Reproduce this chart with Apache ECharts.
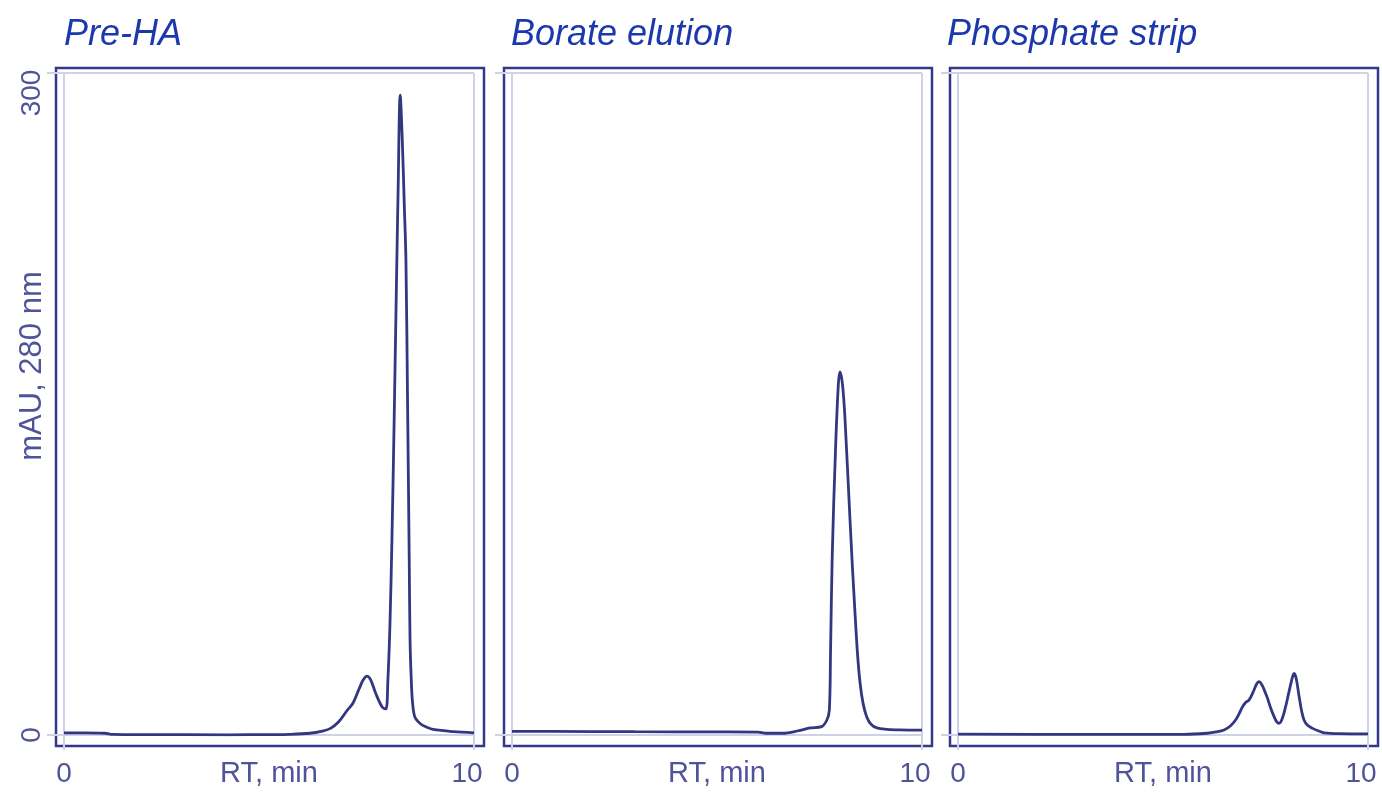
<!DOCTYPE html>
<html>
<head>
<meta charset="utf-8">
<script src="https://cdn.jsdelivr.net/npm/echarts@6/dist/echarts.min.js"></script>
<style>
html, body { margin: 0; background: #fff; }
#chart { width: 1382px; height: 793px; }
</style>
</head>
<body>
<div id="chart"></div>
<script>
let panelTitles = ['Pre-HA', 'Borate elution', 'Phosphate strip'];
let xName = 'RT, min';
let yName = 'mAU, 280 nm';
let xTicks = [0, 10];
let yTicks = [0, 300];

// RT (min) and absorbance (mAU)
let preHaTime = [0, 0.5, 1.0, 1.2, 2, 4, 5, 5.5, 6.0, 6.3, 6.5, 6.7, 6.9, 7.05, 7.2, 7.3, 7.39, 7.48, 7.6, 7.76, 7.85, 7.9, 7.95, 8.0, 8.05, 8.1, 8.15, 8.2, 8.25, 8.3, 8.34, 8.38, 8.42, 8.44, 8.47, 8.5, 8.56, 8.7, 8.85, 9.0, 9.5, 10];
let preHaMau = [1.0, 1.0, 0.8, 0.3, 0.2, 0.1, 0.2, 0.3, 0.8, 1.8, 3, 6, 11, 14.5, 21, 25, 26.7, 25, 19, 12.7, 11.8, 25, 50, 90, 140, 195, 248, 290, 270, 240, 215, 150, 80, 43, 25, 15, 8, 5, 3.5, 2.5, 1.5, 1.0];

let borateTime = [0, 1, 3, 5, 6, 6.2, 6.6, 7.0, 7.27, 7.55, 7.68, 7.74, 7.77, 7.81, 7.89, 7.96, 8.0, 8.06, 8.12, 8.24, 8.37, 8.49, 8.65, 8.9, 9.46, 10];
let borateMau = [1.6, 1.6, 1.5, 1.4, 1.3, 0.8, 0.8, 2.0, 3.2, 3.8, 6.8, 11.3, 38.5, 80.8, 129, 159, 164.6, 159, 144, 99, 54, 23.5, 8.3, 3.2, 2.3, 2.2];

let phosphateTime = [0, 3, 5.5, 6.08, 6.3, 6.49, 6.65, 6.77, 6.86, 6.94, 7.02, 7.1, 7.2, 7.28, 7.34, 7.42, 7.5, 7.55, 7.63, 7.71, 7.78, 7.83, 7.9, 7.99, 8.06, 8.12, 8.17, 8.2, 8.25, 8.32, 8.38, 8.44, 8.52, 8.65, 8.8, 8.93, 9.3, 10];
let phosphateMau = [0.4, 0.3, 0.3, 0.8, 1.4, 2.3, 4.2, 6.8, 9.8, 12.8, 14.8, 15.9, 19.5, 23, 24.2, 22.5, 19, 16.6, 12, 8.3, 5.8, 5.3, 7, 12.8, 18.5, 23.4, 27, 27.9, 25.5, 17.4, 11, 6.8, 4.5, 3, 1.8, 1.0, 0.6, 0.5];

let traces = [
    [preHaTime, preHaMau],
    [borateTime, borateMau],
    [phosphateTime, phosphateMau]
];

let frameColor = '#34378a';
let traceColor = '#33377f';
let faintColor = '#cfd1e8';
let labelColor = '#4f5399';
let titleColor = '#1c38ad';
let font = 'Liberation Sans';

let plotLeft = [64, 512, 958];
let plotWidth = 410;
let plotTop = 73;
let plotHeight = 662;

let grids = [];
let xAxes = [];
let yAxes = [];
let seriesList = [];
let titles = [];

// outer frames (border only)
for (let i = 0; i < 3; i++) {
    grids.push({
        left: plotLeft[i] - 8, top: plotTop - 5, width: plotWidth + 18, height: plotHeight + 16,
        show: true, borderColor: frameColor, borderWidth: 2.5, backgroundColor: 'transparent',
        outerBoundsMode: 'none'
    });
    xAxes.push({ gridIndex: i, type: 'value', show: false, min: 0, max: 1 });
    yAxes.push({ gridIndex: i, type: 'value', show: false, min: 0, max: 1 });
}

// data plots
for (let i = 0; i < 3; i++) {
    let g = i + 3;
    grids.push({ left: plotLeft[i], top: plotTop, width: plotWidth, height: plotHeight, outerBoundsMode: 'none' });

    xAxes.push({
        gridIndex: g, type: 'value',
        min: xTicks[0], max: xTicks[1], interval: xTicks[1] - xTicks[0],
        axisLine: { show: false },
        axisTick: { show: true, length: 15, lineStyle: { color: faintColor, width: 2 } },
        splitLine: { show: true, lineStyle: { color: faintColor, width: 2 } },
        axisLabel: {
            margin: 25, fontFamily: font, fontSize: 28, color: labelColor,
            formatter: v => v === xTicks[1] ? '{end|' + v + '}' : '{n|' + v + '}',
            rich: {
                n: { fontFamily: font, fontSize: 28, color: labelColor },
                end: { fontFamily: font, fontSize: 28, color: labelColor, padding: [0, 14, 0, 0] }
            }
        },
        name: xName, nameLocation: 'middle', nameGap: 24, nameMoveOverlap: false,
        nameTextStyle: { fontFamily: font, fontSize: 29, color: labelColor }
    });

    yAxes.push({
        gridIndex: g, type: 'value',
        min: yTicks[0], max: yTicks[1], interval: yTicks[1] - yTicks[0],
        axisLine: { show: false },
        axisTick: { show: true, length: 17, lineStyle: { color: faintColor, width: 2 } },
        splitLine: { show: true, lineStyle: { color: faintColor, width: 2 } },
        axisLabel: {
            show: i === 0, rotate: 90, margin: 18, fontFamily: font, fontSize: 28, color: labelColor,
            formatter: v => v === yTicks[1] ? '{top|' + v + '}' : '{n|' + v + '}',
            rich: {
                n: { fontFamily: font, fontSize: 28, color: labelColor },
                top: { fontFamily: font, fontSize: 28, color: labelColor, padding: [0, 40, 0, 0] }
            }
        },
        name: i === 0 ? yName : '', nameLocation: 'middle', nameGap: 16, nameMoveOverlap: false,
        nameTextStyle: { fontFamily: font, fontSize: 31, color: labelColor, padding: [0, 0, 0, 76] }
    });

    let data = traces[i][0].map((t, k) => [t, traces[i][1][k]]);
    seriesList.push({
        type: 'line', xAxisIndex: g, yAxisIndex: g, data: data,
        showSymbol: false, smooth: 0.35,
        lineStyle: { color: traceColor, width: 2.8 },
        silent: true
    });

    titles.push({
        text: panelTitles[i], left: [59, 506, 942][i], top: 12,
        textStyle: { fontFamily: font, fontSize: 36, fontStyle: 'italic', fontWeight: 'normal', color: titleColor }
    });
}

let option = {
    animation: false,
    backgroundColor: '#ffffff',
    title: titles,
    grid: grids,
    xAxis: xAxes,
    yAxis: yAxes,
    series: seriesList
};

let chart = echarts.init(document.getElementById('chart'));
chart.setOption(option);
</script>
</body>
</html>
